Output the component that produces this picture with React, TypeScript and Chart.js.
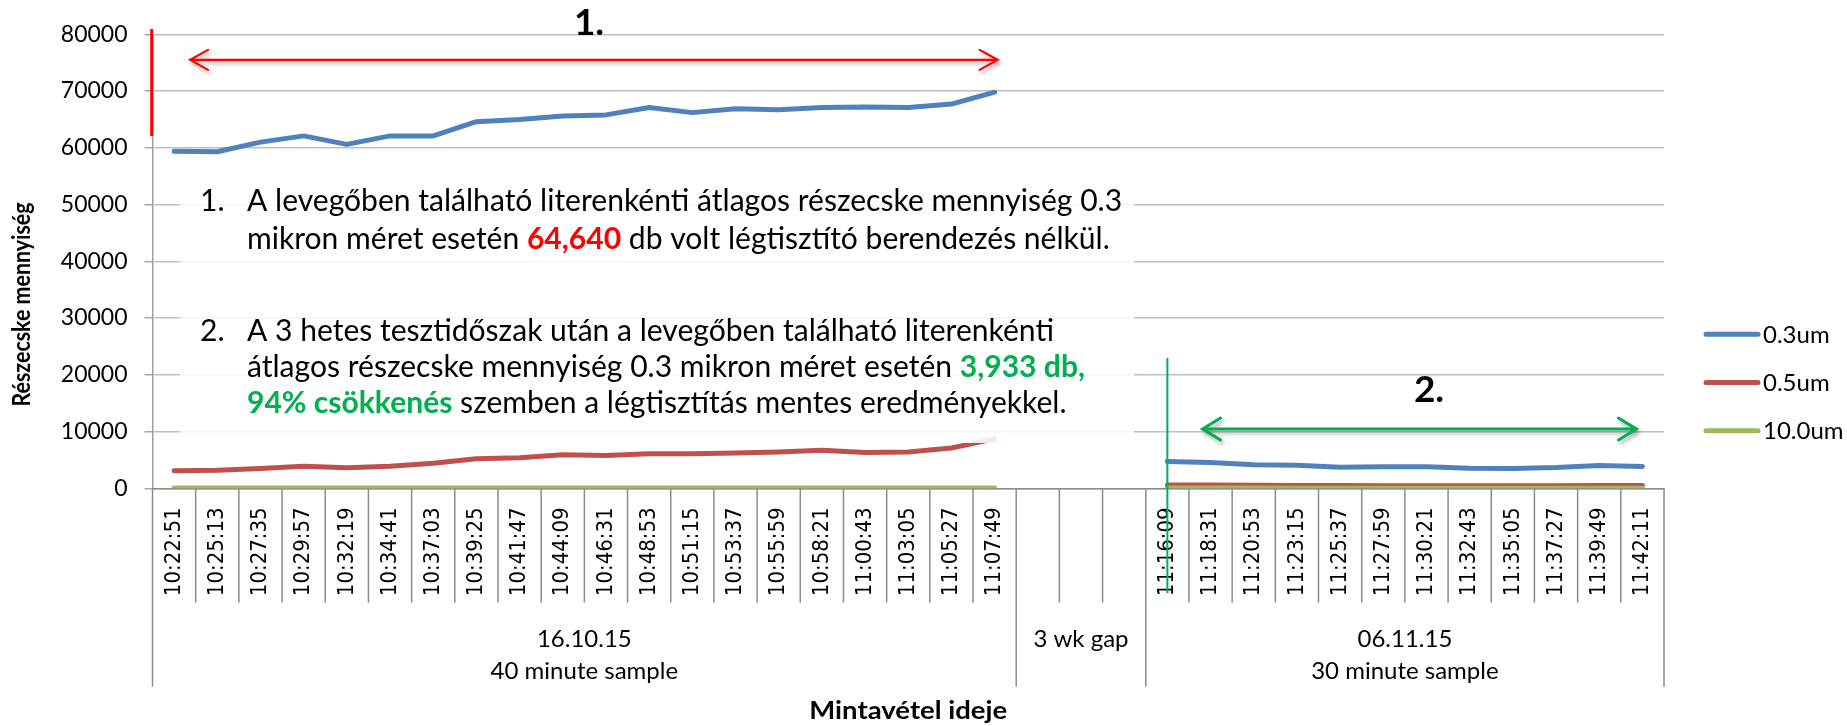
import React, { useEffect, useRef } from 'react';
import { Chart, registerables } from 'chart.js';

Chart.register(...registerables);

const W = 1847;
const H = 726;

// ---------- data ----------
const timeLabels = [
  '10:22:51', '10:25:13', '10:27:35', '10:29:57', '10:32:19', '10:34:41', '10:37:03', '10:39:25',
  '10:41:47', '10:44:09', '10:46:31', '10:48:53', '10:51:15', '10:53:37', '10:55:59', '10:58:21',
  '11:00:43', '11:03:05', '11:05:27', '11:07:49',
  '', '', '',
  '11:16:09', '11:18:31', '11:20:53', '11:23:15', '11:25:37', '11:27:59', '11:30:21', '11:32:43',
  '11:35:05', '11:37:27', '11:39:49', '11:42:11',
];

const groupNames = [['16.10.15', '40 minute sample'], ['3 wk gap'], ['06.11.15', '30 minute sample']];
const groupSizes = [20, 3, 12];

const seriesNames = ['0.3um', '0.5um', '10.0um'];
const seriesColors = ['#4F81BD', '#C0504D', '#9BBB59'];

const values03 = [
  59400, 59300, 61000, 62100, 60600, 62100, 62100, 64600, 65000, 65600,
  65800, 67100, 66200, 66900, 66700, 67100, 67200, 67100, 67700, 69800,
  null, null, null,
  4730, 4560, 4140, 4080, 3730, 3790, 3790, 3550, 3490, 3670, 4020, 3850,
];
const values05 = [
  3100, 3200, 3500, 3900, 3600, 3900, 4400, 5200, 5400, 5900,
  5800, 6100, 6100, 6200, 6400, 6700, 6300, 6400, 7100, 8700,
  null, null, null,
  600, 580, 520, 500, 480, 470, 460, 450, 450, 470, 500, 480,
];
const values10 = [
  60, 60, 70, 60, 60, 70, 60, 60, 70, 60,
  60, 70, 60, 60, 60, 70, 60, 60, 60, 70,
  null, null, null,
  40, 40, 40, 30, 30, 30, 30, 30, 30, 30, 30, 30,
];

const yMin = 0;
const yMax = 80000;
const yStep = 10000;

const yTitle = 'Részecske mennyiség';
const xTitle = 'Mintavétel ideje';

const RED = '#FF0000';
const GREEN = '#00B050';

type Seg = { t: string; c?: string; b?: boolean };
const noteBullets = ['1.', '2.'];
const noteLines: Seg[][] = [
  [{ t: 'A levegőben található literenkénti átlagos részecske mennyiség 0.3' }],
  [{ t: 'mikron méret esetén ' }, { t: '64,640', c: RED, b: true }, { t: ' db volt légtisztító berendezés nélkül.' }],
  [{ t: 'A 3 hetes tesztidőszak után a levegőben található literenkénti' }],
  [{ t: 'átlagos részecske mennyiség 0.3 mikron méret esetén ' }, { t: '3,933 db,', c: GREEN, b: true }],
  [{ t: '94% csökkenés', c: GREEN, b: true }, { t: ' szemben a légtisztítás mentes eredményekkel.' }],
];
const noteLineEnds = [1107, 1111, 1040, 1094, 1086];
const noteBaselines = [211, 249, 341, 377, 413];

// ---------- styling ----------
const SANS = 'Lato, "Open Sans", sans-serif';
const TICK = '"DejaVu Sans Condensed", "DejaVu Sans", sans-serif';

const PLOT_TOP = 34.3;
const PLOT_BOTTOM = 488.3;
const PLOT_LEFT = 152.5;
const PLOT_RIGHT = 1664;

function segWidth(ctx: CanvasRenderingContext2D, segs: Seg[], size: number) {
  let w = 0;
  for (const s of segs) {
    ctx.font = `${s.b ? 'bold ' : ''}${size}px ${SANS}`;
    w += ctx.measureText(s.t).width;
  }
  return w;
}

// draw text at a given font size, squeezed horizontally to a target width
function drawSqueezed(
  ctx: CanvasRenderingContext2D, text: string, cx: number, cy: number,
  size: number, target: number, rotate: boolean, baseline: CanvasTextBaseline,
) {
  ctx.save();
  ctx.font = `bold ${size}px ${SANS}`;
  const w = ctx.measureText(text).width;
  const sx = Math.min(1.1, target / w);
  ctx.translate(cx, cy);
  if (rotate) ctx.rotate(-Math.PI / 2);
  ctx.scale(sx, 1);
  ctx.fillStyle = '#000';
  ctx.textAlign = 'center';
  ctx.textBaseline = baseline;
  ctx.fillText(text, 0, 0);
  ctx.restore();
}

function doubleArrow(
  ctx: CanvasRenderingContext2D, x1: number, x2: number, y: number,
  color: string, lw: number, hl: number, hw: number,
) {
  ctx.save();
  ctx.strokeStyle = color;
  ctx.lineWidth = lw;
  ctx.lineCap = 'round';
  ctx.lineJoin = 'miter';
  ctx.shadowColor = 'rgba(0,0,0,0.35)';
  ctx.shadowBlur = 4;
  ctx.shadowOffsetX = 2;
  ctx.shadowOffsetY = 3;
  ctx.beginPath();
  ctx.moveTo(x1, y);
  ctx.lineTo(x2, y);
  ctx.moveTo(x1 + hl, y - hw);
  ctx.lineTo(x1, y);
  ctx.lineTo(x1 + hl, y + hw);
  ctx.moveTo(x2 - hl, y - hw);
  ctx.lineTo(x2, y);
  ctx.lineTo(x2 - hl, y + hw);
  ctx.stroke();
  ctx.restore();
}

const overlayPlugin = {
  id: 'overlay',
  afterDatasetsDraw(chart: any) {
    const ctx: CanvasRenderingContext2D = chart.ctx;
    ctx.save();
    ctx.fillStyle = 'rgba(255,255,255,0.86)';
    ctx.fillRect(180, 172, 1134 - 180, 443 - 172);
    ctx.restore();
  },
  afterDraw(chart: any) {
    const ctx: CanvasRenderingContext2D = chart.ctx;
    const xs = chart.scales.x;
    const ys = chart.scales.y;
    const area = chart.chartArea;
    const p0 = xs.getPixelForValue(0);
    const slot = xs.getPixelForValue(1) - p0;
    const boundary = (i: number) => p0 - slot / 2 + i * slot;

    // category separators
    const groupEdges = [0];
    groupSizes.forEach((n) => groupEdges.push(groupEdges[groupEdges.length - 1] + n));
    ctx.save();
    ctx.strokeStyle = '#8C8C8C';
    ctx.lineWidth = 1.5;
    for (let i = 0; i <= timeLabels.length; i++) {
      const x = boundary(i);
      const long = groupEdges.includes(i);
      ctx.beginPath();
      ctx.moveTo(x, area.bottom);
      ctx.lineTo(x, long ? 686.7 : 602.7);
      ctx.stroke();
    }
    ctx.restore();

    // group labels
    ctx.save();
    ctx.fillStyle = '#000';
    ctx.font = `24px ${SANS}`;
    ctx.textAlign = 'center';
    ctx.textBaseline = 'alphabetic';
    groupNames.forEach((lines, g) => {
      const cx = (boundary(groupEdges[g]) + boundary(groupEdges[g + 1])) / 2;
      lines.forEach((t, k) => ctx.fillText(t, cx, 646.7 + k * 32.3));
    });
    ctx.restore();

    // axis titles
    drawSqueezed(ctx, xTitle, (area.left + area.right) / 2, 719, 25, 198, false, 'alphabetic');
    drawSqueezed(ctx, yTitle, 22, 304.5, 25, 204, true, 'middle');

    // legend
    ctx.save();
    chart.data.datasets.forEach((d: any, i: number) => {
      const y = 334.3 + i * 48.2;
      ctx.strokeStyle = d.borderColor;
      ctx.lineWidth = 5;
      ctx.lineCap = 'round';
      ctx.beginPath();
      ctx.moveTo(1706, y);
      ctx.lineTo(1758, y);
      ctx.stroke();
      ctx.fillStyle = '#000';
      ctx.font = `24px ${SANS}`;
      ctx.textAlign = 'left';
      ctx.textBaseline = 'middle';
      ctx.fillText(d.label, 1763, y + 1);
    });
    ctx.restore();

    // note text
    ctx.save();
    let ratio = 0;
    noteLines.forEach((segs, i) => {
      ratio += (noteLineEnds[i] - 247) / segWidth(ctx, segs, 100);
    });
    const size = (100 * ratio) / noteLines.length;
    noteLines.forEach((segs, i) => {
      let x = 247;
      const y = noteBaselines[i];
      for (const sg of segs) {
        ctx.font = `${sg.b ? 'bold ' : ''}${size}px ${SANS}`;
        ctx.fillStyle = sg.c || '#000';
        ctx.textAlign = 'left';
        ctx.textBaseline = 'alphabetic';
        ctx.fillText(sg.t, x, y);
        x += ctx.measureText(sg.t).width;
      }
    });
    ctx.font = `${size}px ${SANS}`;
    ctx.fillStyle = '#000';
    ctx.fillText(noteBullets[0], 200, noteBaselines[0]);
    ctx.fillText(noteBullets[1], 200, noteBaselines[2]);
    ctx.restore();

    // annotation 1 (red)
    ctx.save();
    ctx.strokeStyle = RED;
    ctx.lineWidth = 3;
    ctx.beginPath();
    ctx.moveTo(area.left - 0.8, 29);
    ctx.lineTo(area.left - 0.8, 136);
    ctx.stroke();
    ctx.restore();
    const yRed = ys.getPixelForValue(75500);
    doubleArrow(ctx, xs.getPixelForValue(0) + 16, xs.getPixelForValue(19) + 3, yRed, RED, 2.2, 18, 10);
    ctx.save();
    ctx.fillStyle = '#000';
    ctx.font = `bold 37px ${SANS}`;
    ctx.textAlign = 'center';
    ctx.textBaseline = 'alphabetic';
    ctx.fillText('1.', 589, 35);
    ctx.restore();

    // annotation 2 (green)
    const xg = xs.getPixelForValue(23);
    ctx.save();
    ctx.strokeStyle = GREEN;
    ctx.lineWidth = 2;
    ctx.beginPath();
    ctx.moveTo(xg, 358);
    ctx.lineTo(xg, 593);
    ctx.stroke();
    ctx.restore();
    const yGreen = ys.getPixelForValue(10450);
    doubleArrow(ctx, xs.getPixelForValue(24) - 8, xs.getPixelForValue(34) - 6, yGreen, GREEN, 3, 18, 11);
    ctx.save();
    ctx.fillStyle = '#000';
    ctx.font = `bold 37px ${SANS}`;
    ctx.textAlign = 'center';
    ctx.textBaseline = 'alphabetic';
    ctx.fillText('2.', 1429, 401.7);
    ctx.restore();
  },
};

export default function App() {
  const ref = useRef<HTMLCanvasElement>(null);

  useEffect(() => {
    document.body.style.margin = '0';
    document.body.style.overflow = 'hidden';
    const canvas = ref.current;
    if (!canvas) return;

    const seriesData = [values03, values05, values10];
    const datasets = seriesData.map((data, i) => ({
      label: seriesNames[i],
      data,
      borderColor: seriesColors[i],
      backgroundColor: seriesColors[i],
      borderWidth: 5,
      pointRadius: 0,
      pointHoverRadius: 0,
      tension: 0,
      spanGaps: false,
      fill: false,
      borderCapStyle: 'round' as const,
      borderJoinStyle: 'round' as const,
      order: 3 - i,
    }));

    const chart = new Chart(canvas, {
      type: 'line',
      data: { labels: timeLabels, datasets },
      options: {
        responsive: false,
        animation: false,
        events: [],
        layout: { padding: { top: PLOT_TOP, right: W - PLOT_RIGHT, bottom: 0, left: 0 } },
        plugins: {
          legend: { display: false },
          tooltip: { enabled: false },
          title: { display: false },
        },
        scales: {
          x: {
            type: 'category',
            offset: true,
            grid: { display: false, drawTicks: false },
            border: { display: true, color: '#8C8C8C', width: 1.5 },
            ticks: {
              autoSkip: false,
              minRotation: 90,
              maxRotation: 90,
              color: '#000',
              padding: 19,
              font: { family: TICK, size: 22 },
            },
            afterFit: (s: any) => {
              s.height = H - PLOT_BOTTOM;
            },
          },
          y: {
            min: yMin,
            max: yMax,
            ticks: {
              stepSize: yStep,
              color: '#000',
              padding: 17,
              font: { family: SANS, size: 23 },
              callback: (v: any) => String(v),
            },
            grid: { color: '#BFBFBF', lineWidth: 1.5, tickLength: 8, drawTicks: true, tickColor: '#A6A6A6' },
            border: { display: true, color: '#A0A0A0', width: 1.5 },
            afterFit: (s: any) => {
              s.width = PLOT_LEFT;
            },
          },
        },
      },
      plugins: [overlayPlugin],
    } as any);

    return () => chart.destroy();
  }, []);

  return (
    <div style={{ width: W, height: H, background: '#fff' }}>
      <canvas ref={ref} width={W} height={H} style={{ display: 'block', width: W, height: H }} />
    </div>
  );
}
